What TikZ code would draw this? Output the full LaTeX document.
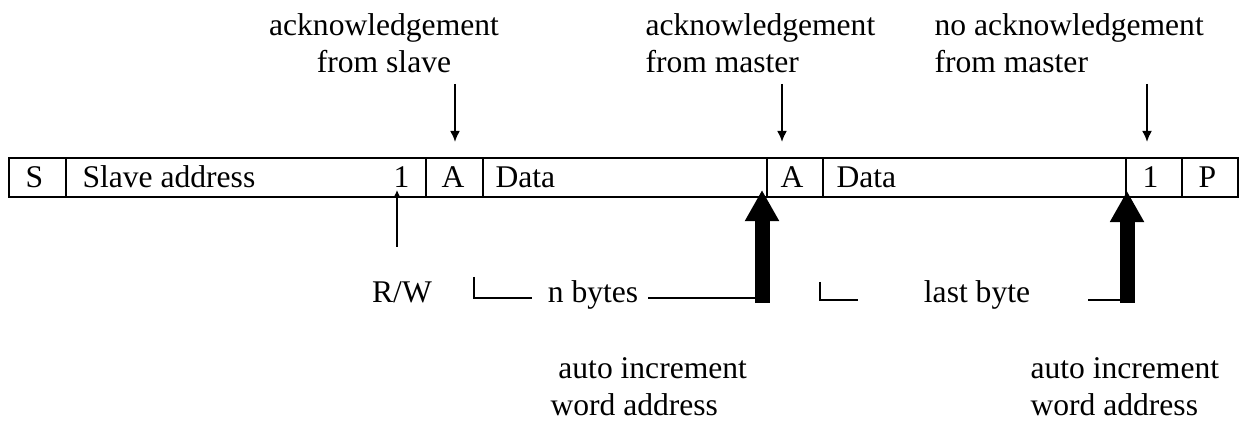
\documentclass[tikz,border=0pt]{standalone}
\usepackage{fontspec}
\setmainfont{Liberation Serif}
\usetikzlibrary{arrows.meta}

\begin{document}
\begin{tikzpicture}[x=0.38pt,y=-0.38pt,
		lbl/.style={inner sep=0pt,font=\fontsize{12}{14.4}\selectfont},
		frame/.style={line width=0.75pt},
		thinarrow/.style={line width=0.75pt,-{Latex[length=4.2pt,width=3.8pt]}},
		rwarrow/.style={line width=0.75pt,-{Latex[length=3pt,width=3pt]}},
		bigarrow/.style={line width=5.7pt,-{Triangle[length=11.8pt,width=12.2pt]}},
		bracket/.style={line width=0.4pt}]
				\useasboundingbox (0,0) rectangle (1242,421);
				% frame of the transfer
				\draw[frame] (9,158) rectangle (1238,197);
				\foreach \xd in {66,426,483,767,823,1126,1182}
					\draw[frame] (\xd,158)--(\xd,197);
				\node[lbl,anchor=base west] (start) at (25,188) {S};
				\node[lbl,anchor=base west] (slaveaddr) at (82,188) {Slave address};
				\node[lbl,anchor=base west] (rwbit) at (393,188) {1};
				\node[lbl,anchor=base west] (acka) at (441,188) {A};
				\node[lbl,anchor=base west] (dataa) at (495,188) {Data};
				\node[lbl,anchor=base west] (ackb) at (780,188) {A};
				\node[lbl,anchor=base west] (datab) at (836,188) {Data};
				\node[lbl,anchor=base west] (nack) at (1142,188) {1};
				\node[lbl,anchor=base west] (stop) at (1198,188) {P};

				% labels above
				\node[lbl,align=center,anchor=base] (ackslave) at (384,73) {acknowledgement\\from slave};
				\node[lbl,align=left,anchor=base west] (ackmaster) at (645,73) {acknowledgement\\from master};
				\node[lbl,align=left,anchor=base west] (nackmaster) at (934,73) {no acknowledgement\\from master};
				\foreach \xa/\nm in {455/a,782/b,1147/c}{
					\coordinate (top\nm) at (\xa,84);
					\coordinate (tip\nm) at (\xa,142);
					\draw[thinarrow] (top\nm)--(tip\nm);
				}

				% labels below
				\node[lbl,anchor=base] (rw) at (402,303) {R/W};
				\coordinate (rwfoot) at (397,247);
				\coordinate (rwtip) at (397,190);
				\draw[rwarrow] (rwfoot)--(rwtip);

				\node[lbl,anchor=base] (nbytes) at (593,303) {n bytes};
				\draw[bracket] (474,277) |- (532,298);
				\draw[bracket] (648,298)--(758,298);
				\node[lbl,anchor=base] (lastbyte) at (977,303) {last byte};
				\draw[bracket] (820,282) |- (858,300);
				\draw[bracket] (1088,300)--(1122,300);

				\coordinate (incfoota) at (762,303);
				\coordinate (inctipa) at (762,190);
				\coordinate (incfootb) at (1127,303);
				\coordinate (inctipb) at (1127,191);
				\draw[bigarrow] (incfoota)--(inctipa);
				\draw[bigarrow] (incfootb)--(inctipb);

				\node[lbl,align=left,anchor=base west] (incra) at (550,416) {\hspace*{3pt}auto increment\\word address};
				\node[lbl,align=left,anchor=base west] (incrb) at (1030,416) {auto increment\\word address};
\end{tikzpicture}
\end{document}
